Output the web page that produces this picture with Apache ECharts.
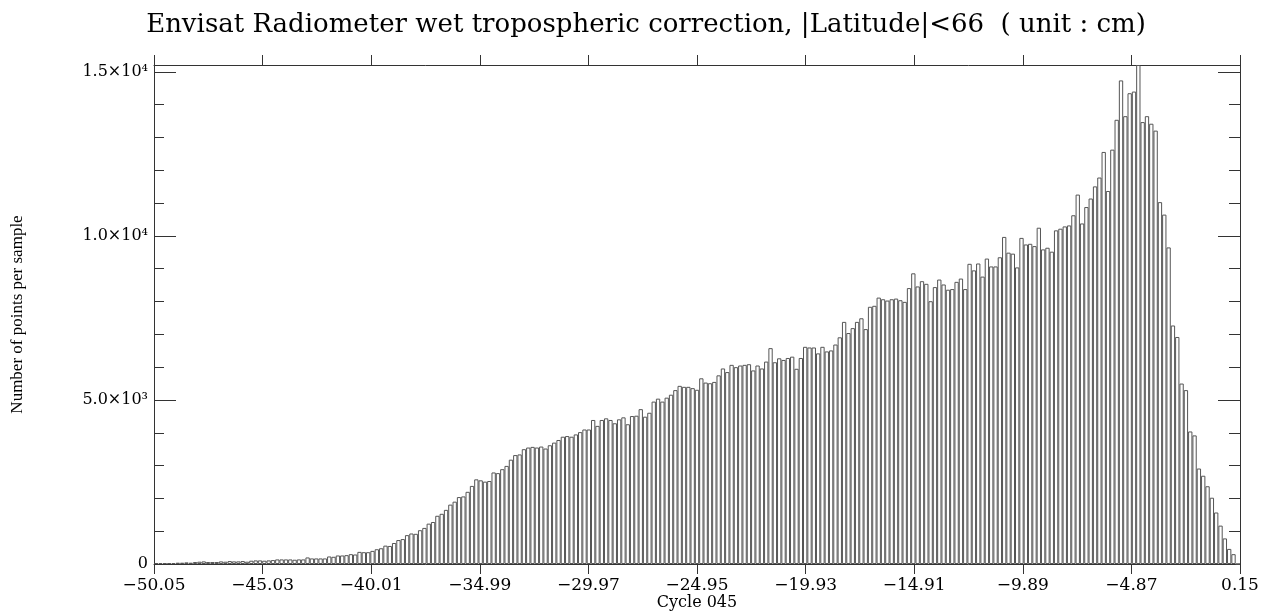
<!DOCTYPE html>
<html>
<head>
<meta charset="utf-8">
<script src="https://cdn.jsdelivr.net/npm/echarts@6/dist/echarts.min.js"></script>
<style>html,body{margin:0;padding:0;background:#fff;}#c{width:1261px;height:612px;}</style>
</head>
<body>
<div id="c"></div>
<script>
// Histogram bins: 251 bins of 0.2 cm from -50.05 to 0.15
const binStart = -50.05;
const binWidth = 0.2;
const counts = [
  30,30,30,30,30,40,40,50,40,60,
  70,80,60,60,60,80,70,90,80,80,
  90,70,100,110,110,100,110,120,140,140,
  140,140,130,140,140,200,170,170,170,170,
  230,220,260,260,270,300,290,370,360,360,
  400,450,480,560,550,640,730,760,880,930,
  920,1030,1100,1230,1280,1470,1530,1650,1810,1900,
  2040,2060,2200,2380,2580,2550,2510,2530,2790,2770,
  2890,2990,3180,3320,3340,3500,3550,3570,3550,3580,
  3520,3620,3700,3780,3880,3900,3880,3950,4020,4100,
  4100,4390,4210,4390,4440,4390,4290,4410,4470,4260,
  4510,4520,4720,4490,4610,4950,5040,4950,5070,5160,
  5300,5430,5400,5400,5360,5310,5660,5530,5510,5550,
  5750,5960,5850,6070,6000,6050,6070,6090,5900,6050,
  5960,6170,6580,6150,6270,6220,6280,6320,5950,6280,
  6620,6600,6600,6420,6620,6480,6510,6690,6910,7380,
  7040,7190,7380,7490,7160,7840,7870,8120,8070,8030,
  8070,8090,8040,7990,8410,8860,8460,8620,8540,8010,
  8440,8670,8520,8360,8380,8600,8700,8380,9150,8950,
  9160,8760,9310,9070,9070,9350,9970,9490,9460,9040,
  9940,9740,9760,9690,10250,9590,9640,9520,10170,10220,
  10290,10320,10630,11260,10380,10880,11140,11510,11780,12560,
  11370,12630,13540,14740,13650,14350,14400,15210,13470,13650,
  13420,13210,11030,10650,9650,7270,6920,5500,5300,4040,
  3920,2910,2690,2370,2020,1570,1170,780,460,300,
  0
];
const categories = counts.map((_, i) => (binStart + binWidth * (i + 0.5)).toFixed(2));
const xTickLabels = ['\u221250.05','\u221245.03','\u221240.01','\u221234.99','\u221229.97','\u221224.95','\u221219.93','\u221214.91','\u22129.89','\u22124.87','0.15'];
const yTickLabels = {0:'0', 5000:'5.0\u00d710\u00b3', 10000:'1.0\u00d710\u2074', 15000:'1.5\u00d710\u2074'};
const yMax = 15210;
const titleText = 'Envisat Radiometer wet tropospheric correction, |Latitude|<66  ( unit : cm)';

const axisColor = '#333';
const chart = echarts.init(document.getElementById('c'), null, {renderer: 'canvas'});
chart.setOption({
  animation: false,
  backgroundColor: '#fff',
  title: {
    text: titleText, left: 641, top: 7, textAlign: 'center',
    textStyle: {fontFamily: 'DejaVu Serif', fontSize: 26, fontWeight: 'normal', color: '#000'}
  },
  grid: {left: 154, right: 21, top: 65, bottom: 48, containLabel: false, outerBoundsMode: 'none'},
  xAxis: [
    {type: 'category', data: categories, position: 'bottom', boundaryGap: true, show: false, gridIndex: 0},
    {type: 'value', min: 0, max: 10, interval: 1, position: 'bottom', gridIndex: 0,
     axisLine: {show: true, onZero: false, lineStyle: {color: axisColor, width: 1}},
     axisTick: {show: true, inside: false, length: 10, lineStyle: {color: axisColor}},
     splitLine: {show: false},
     axisLabel: {margin: 13, color: '#000', fontFamily: 'DejaVu Serif', fontSize: 17,
       formatter: v => xTickLabels[Math.round(v)] || ''},
     name: 'Cycle 045', nameLocation: 'middle', nameGap: 31, nameMoveOverlap: false,
     nameTextStyle: {fontFamily: 'DejaVu Serif', fontSize: 16, color: '#000'}
    },
    {type: 'value', min: 0, max: 10, interval: 1, position: 'top', gridIndex: 0,
     axisLine: {show: true, onZero: false, lineStyle: {color: axisColor, width: 1}},
     axisTick: {show: true, inside: false, length: 10, lineStyle: {color: axisColor}},
     splitLine: {show: false}, axisLabel: {show: false}
    }
  ],
  yAxis: [
    {type: 'value', min: 0, max: yMax, interval: 5000, position: 'left', gridIndex: 0,
     axisLine: {show: true, onZero: false, lineStyle: {color: axisColor, width: 1}},
     axisTick: {show: true, inside: true, length: 22, lineStyle: {color: axisColor}},
     minorTick: {show: true, splitNumber: 5, length: 10, lineStyle: {color: axisColor}},
     splitLine: {show: false},
     axisLabel: {margin: 6, color: '#000', fontFamily: 'DejaVu Serif', fontSize: 16, showMaxLabel: false,
       formatter: v => (yTickLabels[v] !== undefined ? yTickLabels[v] : '')},
     name: 'Number of points per sample', nameLocation: 'middle', nameGap: 128, nameRotate: 90, nameMoveOverlap: false,
     nameTextStyle: {fontFamily: 'Liberation Serif', fontSize: 17, color: '#000'}
    },
    {type: 'value', min: 0, max: yMax, interval: 5000, position: 'right', gridIndex: 0,
     axisLine: {show: true, onZero: false, lineStyle: {color: axisColor, width: 1}},
     axisTick: {show: true, inside: true, length: 22, lineStyle: {color: axisColor}},
     minorTick: {show: true, splitNumber: 5, length: 11, lineStyle: {color: axisColor}},
     splitLine: {show: false}, axisLabel: {show: false}
    }
  ],
  series: [{
    type: 'bar', xAxisIndex: 0, yAxisIndex: 0, data: counts,
    barCategoryGap: '0%', barGap: '0%',
    itemStyle: {color: '#fff', borderColor: '#555', borderWidth: 1},
    silent: true
  }]
});
</script>
</body>
</html>
